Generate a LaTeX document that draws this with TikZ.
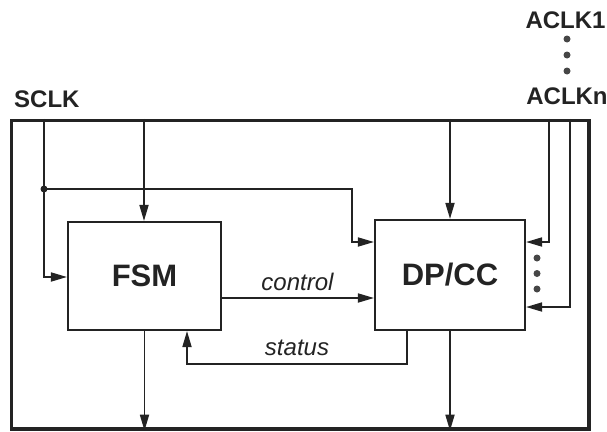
\documentclass[tikz,border=0pt]{standalone}
\usepackage{fontspec}
\setmainfont{Liberation Sans}
\usetikzlibrary{arrows.meta}
\definecolor{ink}{RGB}{35,35,35}
\definecolor{dotc}{RGB}{70,70,70}
\begin{document}
\begin{tikzpicture}[x=1pt,y=-1pt,
  wire/.style={draw=ink, line width=1.7pt},
  arr/.style={wire, -{Triangle[length=16pt,width=9pt]}},
  blk/.style={draw=ink, line width=2.1pt, rectangle, inner sep=0pt, text=ink,
              font=\fontsize{31}{34}\selectfont\bfseries},
  lbl/.style={font=\fontsize{24}{28}\selectfont\bfseries, text=ink, inner sep=0pt, anchor=base},
  sig/.style={font=\fontsize{24}{28}\selectfont\itshape, text=ink, inner sep=0pt, anchor=base},
  dotm/.style={circle, fill=dotc, inner sep=0pt, minimum size=7pt}]
\useasboundingbox (0,0) rectangle (607,431);

% frame
\node[blk, line width=3.4pt, minimum width=577.5pt, minimum height=308.5pt] (sys) at (300.25,274.75) {};

% blocks
\node[blk, minimum width=153pt, minimum height=108pt] (fsm) at (144.5,276) {FSM};
\node[blk, minimum width=150pt, minimum height=110pt] (dp) at (450,275) {DP/CC};

% external labels
\node[lbl, anchor=base west] (sclk) at (14,107) {SCLK};
\node[lbl] (aclk1) at (565.5,28) {ACLK1};
\node[lbl] (aclkn) at (567,104) {ACLKn};
\node[dotm] (d1) at (567,39) {};
\node[dotm] (d2) at (567,55) {};
\node[dotm] (d3) at (567,71) {};

% entry points on frame
\coordinate (t1) at (44,0 |- sys.north);
\coordinate (t2) at (144,0 |- sys.north);
\coordinate (t3) at (450,0 |- sys.north);
\coordinate (t4) at (549,0 |- sys.north);
\coordinate (t5) at (570,0 |- sys.north);
\coordinate (b1) at (144.5,0 |- sys.south);
\coordinate (b2) at (450,0 |- sys.south);

% SCLK distribution
\node[dotm, fill=ink] (j) at (44,189) {};
\draw[wire] (t1) -- (j.center);
\draw[arr] (j.center) |- (fsm.west |- 0,277);
\draw[arr] (j.center) -| (352,242) -- (dp.west |- 0,242);
\draw[arr] (t2) -- (t2 |- fsm.north);
\draw[arr] (t3) -- (t3 |- dp.north);

% ACLK inputs
\draw[arr] (t4) |- (dp.east |- 0,242);
\draw[arr] (t5) |- (dp.east |- 0,307);
\node[dotm] (e1) at (537,258) {};
\node[dotm] (e2) at (537,273.5) {};
\node[dotm] (e3) at (537,289) {};

% control / status
\draw[arr] (fsm.east |- 0,298) -- (dp.west |- 0,298);
\node[sig] (ctl) at (297.5,290) {control};
\draw[arr] (dp.south -| 407,0) |- (187,364) -- (fsm.south -| 187,0);
\node[sig] (sts) at (297,355) {status};

% outputs
\draw[arr] (fsm.south) -- (b1);
\draw[arr] (dp.south) -- (b2);
\end{tikzpicture}
\end{document}
